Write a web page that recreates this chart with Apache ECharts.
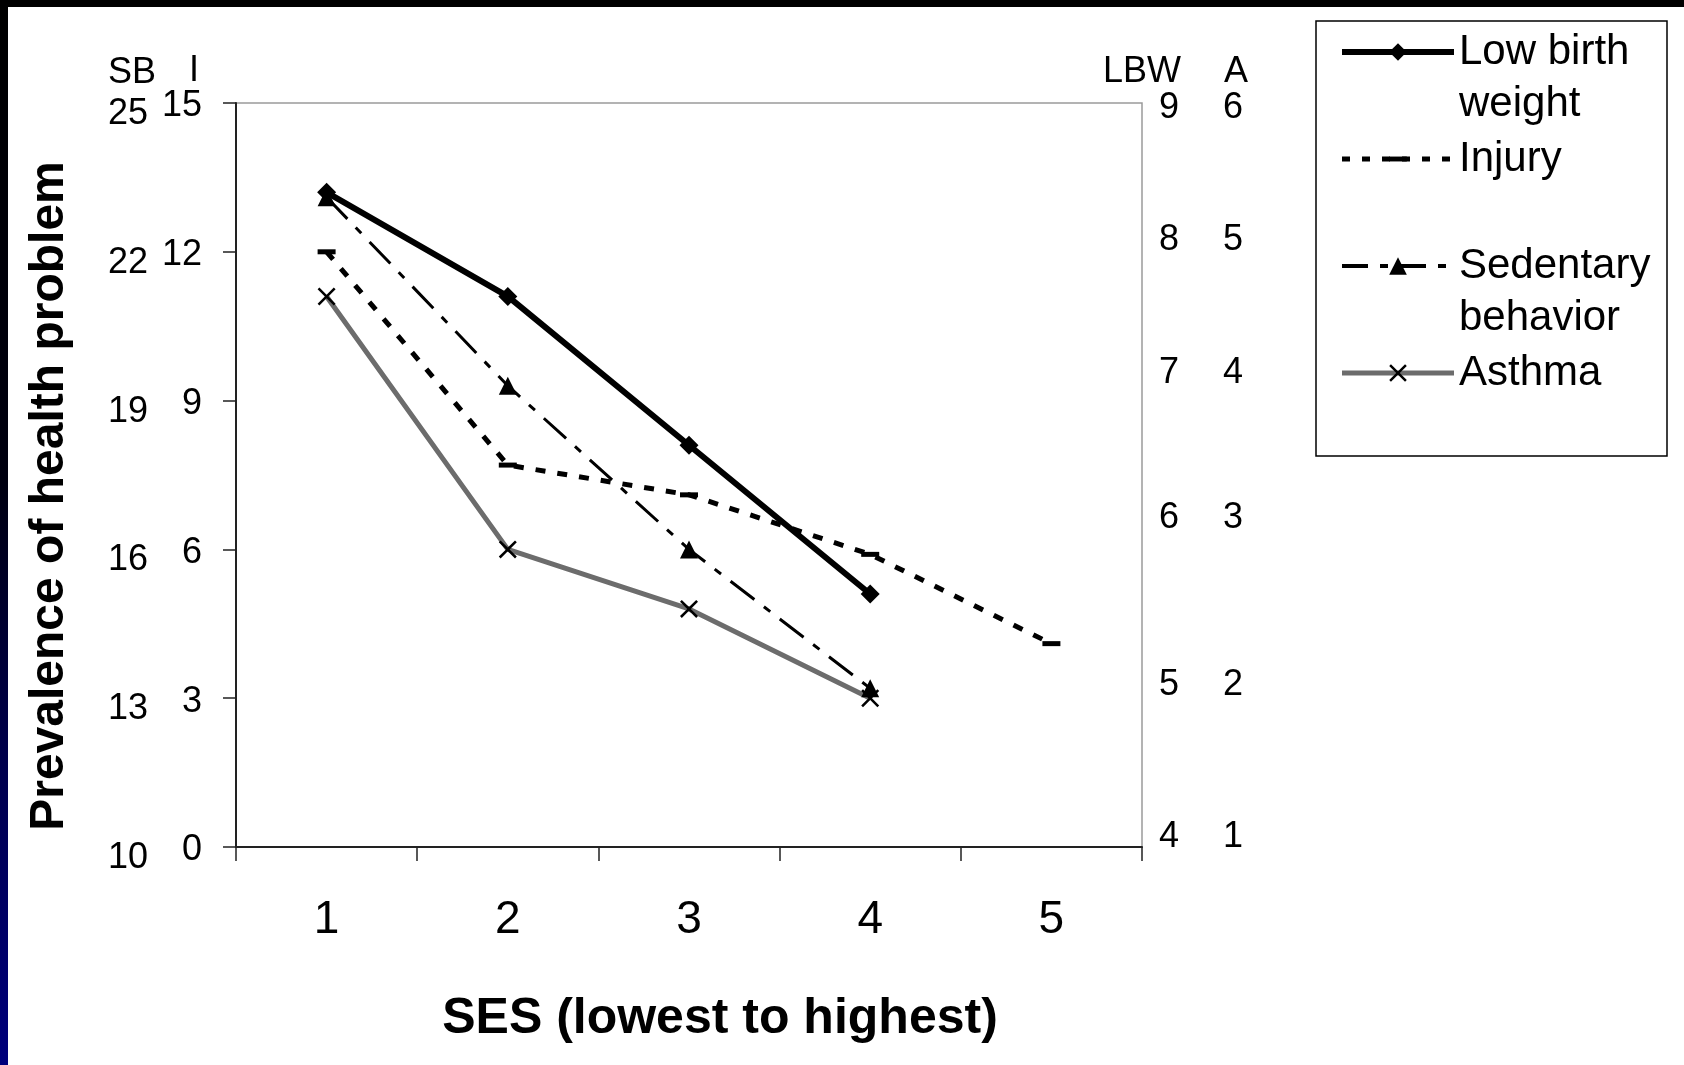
<!DOCTYPE html>
<html>
<head>
<meta charset="utf-8">
<script src="https://cdn.jsdelivr.net/npm/echarts@6/dist/echarts.min.js"></script>
<style>
  html, body { margin: 0; padding: 0; background: #ffffff; }
  #chart { width: 1684px; height: 1065px; }
</style>
</head>
<body>
<div id="chart"></div>
<script>
// ---- Data ----
const categories = ['1', '2', '3', '4', '5'];
const seriesNames = ['Low birth\nweight', 'Injury', 'Sedentary\nbehavior', 'Asthma'];
const lowBirthWeight = [8.4, 7.7, 6.7, 5.7, null];   // LBW axis (right, 4-9)
const injury = [12.0, 7.7, 7.1, 5.9, 4.1];           // I axis (left, 0-15)
const sedentary = [23.1, 19.3, 16.0, 13.2, null];    // SB axis (left, 10-25)
const asthma = [4.7, 3.0, 2.6, 2.0, null];           // A axis (right, 1-6)

// ---- Tick labels of the four value axes ----
const iTicks = [0, 3, 6, 9, 12, 15];
const sbTicks = [10, 13, 16, 19, 22, 25];
const lbwTicks = [4, 5, 6, 7, 8, 9];
const aTicks = [1, 2, 3, 4, 5, 6];
const axisNames = ['I', 'SB', 'LBW', 'A'];
const xTitle = 'SES (lowest to highest)';
const yTitle = 'Prevalence of health problem';

const FONT = '"Liberation Sans", Arial, Helvetica, sans-serif';
const TICK_FS = 36;
const chart = echarts.init(document.getElementById('chart'), null, { renderer: 'canvas' });

function range(t) { return { min: t[0], max: t[t.length - 1], interval: t[1] - t[0] }; }

// vertical nudges of tick labels (the original labels were loose text boxes)
const rightShift = [-10, -13, -31, -28, -12, 5];
const rightRich = {};
rightShift.forEach((s, i) => {
  rightRich['s' + i] = {
    fontSize: TICK_FS, fontFamily: FONT, color: '#000',
    padding: s >= 0 ? [2 * s, 0, 0, 0] : [0, 0, -2 * s, 0]
  };
});
function rightFormatter(ticks) {
  return function (v) {
    const i = ticks.indexOf(v);
    return '{s' + i + '|' + v + '}';
  };
}
const sbRich = { d: { fontSize: TICK_FS, fontFamily: FONT, color: '#000', padding: [22, 0, 0, 0] } };
const iRich = { d: { fontSize: TICK_FS, fontFamily: FONT, color: '#000', padding: [7, 0, 0, 0] } };

const xMarker = 'path://M1,0 L5,4 L9,0 L10,1 L6,5 L10,9 L9,10 L5,6 L1,10 L0,9 L4,5 L0,1 Z';
const dashMarker = 'path://M0,-6.5 M0,11.5 M0,0 L18,0 L18,5 L0,5 Z';

const option = {
  animation: false,
  backgroundColor: '#ffffff',
  textStyle: { fontFamily: FONT, color: '#000' },
  grid: {
    left: 236, right: 542, top: 103, bottom: 218,
    show: true, borderColor: '#9a9a9a', borderWidth: 1.5, backgroundColor: 'transparent'
  },
  graphic: [
    { type: 'rect', shape: { x: 0, y: 0, width: 1684, height: 7 }, style: { fill: '#000' }, silent: true },
    { type: 'rect', shape: { x: 0, y: 0, width: 8, height: 1065 }, silent: true,
      style: { fill: new echarts.graphic.LinearGradient(0, 0, 0, 1, [
        { offset: 0, color: '#000000' }, { offset: 0.45, color: '#000010' },
        { offset: 0.7, color: '#00004a' }, { offset: 1, color: '#00007c' }]) } },
    { type: 'rect', shape: { x: 1316, y: 21, width: 351, height: 435 }, silent: true,
      style: { fill: 'none', stroke: '#000', lineWidth: 1.5 } }
  ],
  legend: {
    orient: 'vertical',
    left: 1339,
    top: -26,
    padding: 0,
    itemWidth: 112,
    itemHeight: 22,
    itemGap: -49,
    itemTextGap: 9,
    selectedMode: false,
    formatter: function (name) {
      return ' \n' + (name.indexOf('\n') >= 0 ? name : name + '\n ');
    },
    textStyle: { fontFamily: FONT, fontSize: 42, lineHeight: 52, color: '#000' },
    data: [
      { name: seriesNames[0], lineStyle: { width: 6, type: 'solid', color: '#000' }, itemStyle: { color: '#000' } },
      { name: seriesNames[1], lineStyle: { width: 5, type: [8, 12], color: '#000' }, itemStyle: { color: '#000' } },
      { name: seriesNames[2], lineStyle: { width: 4, type: [26, 12, 8, 12], color: '#000' }, itemStyle: { color: '#000' } },
      { name: seriesNames[3], lineStyle: { width: 5, type: 'solid', color: '#6c6c6c' }, itemStyle: { color: '#000' } }
    ]
  },
  xAxis: {
    type: 'category',
    data: categories,
    boundaryGap: true,
    axisLine: { show: true, lineStyle: { color: '#222', width: 2 } },
    axisTick: { show: true, length: 14, lineStyle: { color: '#222', width: 1.5 } },
    axisLabel: { fontSize: 46, fontFamily: FONT, color: '#000', margin: 50 },
    splitLine: { show: false },
    name: xTitle,
    nameLocation: 'middle',
    nameGap: 147,
    nameTextStyle: { fontSize: 50, fontWeight: 'bold', fontFamily: FONT, color: '#000', padding: [0, 0, 0, 62] }
  },
  yAxis: [
    Object.assign({
      type: 'value', position: 'left', offset: 0,
      name: axisNames[0], nameLocation: 'end', nameGap: 12,
      nameTextStyle: { fontSize: TICK_FS, fontFamily: FONT, color: '#000', align: 'right', padding: [0, 37, 0, 0] },
      axisLine: { show: true, lineStyle: { color: '#222', width: 2 } },
      axisTick: { show: true, length: 13, lineStyle: { color: '#222', width: 1.5 } },
      axisLabel: { fontSize: TICK_FS, fontFamily: FONT, color: '#000', margin: 34,
        formatter: function (v) { return '{d|' + v + '}'; }, rich: iRich },
      splitLine: { show: false }
    }, range(iTicks)),
    Object.assign({
      type: 'value', position: 'left', offset: 60,
      name: axisNames[1], nameLocation: 'end', nameGap: 12,
      nameTextStyle: { fontSize: TICK_FS, fontFamily: FONT, color: '#000', align: 'right', padding: [0, 20, 0, 0] },
      axisLine: { show: false }, axisTick: { show: false },
      axisLabel: { fontSize: TICK_FS, fontFamily: FONT, color: '#000', margin: 28,
        formatter: function (v) { return '{d|' + v + '}'; }, rich: sbRich },
      splitLine: { show: false }
    }, range(sbTicks)),
    Object.assign({
      type: 'value', position: 'right', offset: 0,
      name: axisNames[2], nameLocation: 'end', nameGap: 12,
      nameTextStyle: { fontSize: TICK_FS, fontFamily: FONT, color: '#000', align: 'center' },
      axisLine: { show: false }, axisTick: { show: false },
      axisLabel: { fontSize: TICK_FS, fontFamily: FONT, color: '#000', margin: 17, formatter: rightFormatter(lbwTicks), rich: rightRich },
      splitLine: { show: false }
    }, range(lbwTicks)),
    Object.assign({
      type: 'value', position: 'right', offset: 70,
      name: axisNames[3], nameLocation: 'end', nameGap: 12,
      nameTextStyle: { fontSize: TICK_FS, fontFamily: FONT, color: '#000', align: 'left', padding: [0, 0, 0, 12] },
      axisLine: { show: false }, axisTick: { show: false },
      axisLabel: { fontSize: TICK_FS, fontFamily: FONT, color: '#000', margin: 11, formatter: rightFormatter(aTicks), rich: rightRich },
      splitLine: { show: false }
    }, range(aTicks)),
    {
      type: 'value', position: 'left', offset: 0, min: 0, max: 1,
      axisLine: { show: false }, axisTick: { show: false }, axisLabel: { show: false }, splitLine: { show: false },
      name: yTitle, nameLocation: 'middle', nameGap: 162,
      nameTextStyle: { fontSize: 48, fontWeight: 'bold', fontFamily: FONT, color: '#000', padding: [0, 42, 0, 0] }
    }
  ],
  series: [
    {
      name: seriesNames[3], type: 'line', yAxisIndex: 3, data: asthma,
      symbol: xMarker, symbolSize: 18, showAllSymbol: true,
      lineStyle: { color: '#6c6c6c', width: 5 },
      itemStyle: { color: '#000' }, z: 2
    },
    {
      name: seriesNames[1], type: 'line', yAxisIndex: 0, data: injury,
      symbol: dashMarker, symbolSize: 18,
      lineStyle: { color: '#000', width: 5, type: [10, 12] },
      itemStyle: { color: '#000' }, z: 3
    },
    {
      name: seriesNames[2], type: 'line', yAxisIndex: 1, data: sedentary,
      symbol: 'triangle', symbolSize: 18,
      lineStyle: { color: '#000', width: 3, type: [30, 12, 8, 12] },
      itemStyle: { color: '#000' }, z: 4
    },
    {
      name: seriesNames[0], type: 'line', yAxisIndex: 2, data: lowBirthWeight,
      symbol: 'diamond', symbolSize: 19,
      lineStyle: { color: '#000', width: 6 },
      itemStyle: { color: '#000' }, z: 5
    }
  ]
};
chart.setOption(option);
</script>
</body>
</html>
